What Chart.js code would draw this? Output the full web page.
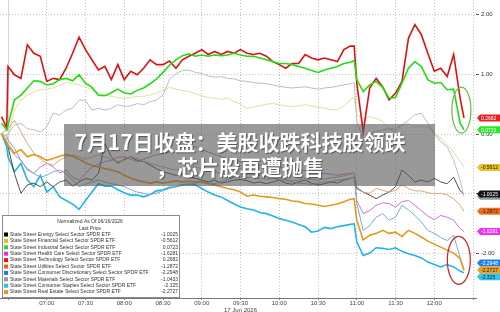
<!DOCTYPE html>
<html>
<head>
<meta charset="utf-8">
<script src="https://cdn.jsdelivr.net/npm/chart.js@4.4.1/dist/chart.umd.min.js"></script>
<style>
body { margin: 0; background: #fff; }
#wrap { position: relative; width: 500px; height: 312px; overflow: hidden; }
#headline {
  position: absolute; left: 64px; top: 124px; width: 371px; height: 62px;
  box-sizing: border-box; padding: 5px 19px 0 0;
  background: rgba(85, 85, 85, 0.6); color: #fff;
  font-family: "Noto Sans CJK SC", sans-serif; font-weight: 700; font-size: 21px; line-height: 25px;
  text-align: center; text-shadow: 1px 1px 1px rgba(0, 0, 0, 0.45);
}
</style>
</head>
<body>
<div id="wrap">
  <canvas id="chart" width="500" height="312"></canvas>
  <div id="headline">7月17日收盘：美股收跌科技股领跌<br>，芯片股再遭抛售</div>
</div>
<script>
// sample times (17 Jun 2026, intraday)
const times = ["06:25","06:29","06:30",
  "06:35","06:40","06:45","06:50","06:55","07:00","07:05","07:10","07:15","07:20","07:25","07:30",
  "07:35","07:40","07:45","07:50","07:55","08:00","08:05","08:10","08:15","08:20","08:25","08:30",
  "08:35","08:40","08:45","08:50","08:55","09:00","09:05","09:10","09:15","09:20","09:25","09:30",
  "09:35","09:40","09:45","09:50","09:55","10:00","10:05","10:10","10:15","10:20","10:25","10:30",
  "10:35","10:40","10:45","10:50","10:55","10:58","11:00","11:05","11:10","11:15","11:20","11:25",
  "11:30","11:35","11:40","11:45","11:50","11:55","12:00","12:05","12:10","12:15","12:20","12:23"];

const energyVals = [0.01,-0.16,-0.21,-0.66,-0.99,-0.85,-0.82,-0.88,-0.80,-0.88,
  -0.80,-0.77,-0.87,-0.80,-0.74,-0.77,-0.66,-0.16,-0.38,-0.49,
  -0.42,-0.38,-0.44,-0.46,-0.52,-0.58,-0.63,-0.66,-0.69,-0.66,
  -0.72,-0.74,-0.77,-0.80,-0.77,-0.82,-0.80,-0.77,-0.76,-0.78,
  -0.82,-0.80,-0.83,-0.80,-0.77,-0.82,-0.84,-0.80,-0.77,-0.82,
  -0.85,-0.83,-0.80,-0.82,-0.77,-0.74,-0.72,-0.91,-0.97,-1.02,
  -1.08,-1.02,-0.97,-0.88,-0.60,-0.69,-0.80,-0.77,-0.80,-0.74,
  -0.80,-0.83,-0.72,-0.95,-1.00];
const finVals = [0.01,-0.10,-0.04,0.40,0.57,0.65,0.71,0.74,0.75,0.77,
  0.82,0.86,0.85,0.82,0.78,0.75,0.69,0.65,0.63,0.61,
  0.60,0.61,0.63,0.63,0.65,0.69,0.73,0.78,0.75,0.73,
  0.71,0.67,0.64,0.61,0.60,0.58,0.60,0.54,0.50,0.43,
  0.45,0.47,0.50,0.51,0.49,0.47,0.46,0.47,0.49,0.47,
  0.45,0.43,0.41,0.40,0.47,0.57,0.61,0.32,0.26,0.29,
  0.26,0.21,0.09,0.09,0.15,0.18,0.11,0.13,0.12,0.01,
  -0.07,-0.18,-0.30,-0.46,-0.56];
const indVals = [0.18,0.07,0.15,0.57,0.65,0.77,0.89,0.88,0.82,0.84,
  0.91,0.93,0.89,0.99,0.85,0.78,0.65,0.64,0.69,0.75,
  0.69,0.67,0.73,0.77,0.84,0.92,1.03,1.15,1.24,1.31,
  1.34,1.30,1.32,1.30,1.32,1.31,1.32,1.35,1.32,1.30,
  1.30,1.27,1.24,1.21,1.18,1.18,1.16,1.13,1.10,1.06,
  1.03,1.07,1.10,1.13,1.18,1.20,1.23,0.91,0.71,0.82,
  0.88,0.78,0.60,0.61,0.85,1.10,1.21,1.13,0.91,0.85,
  0.86,0.74,0.75,0.18,0.07];
const healthVals = [0.01,-0.04,-0.10,-0.24,-0.44,-0.60,-0.66,-0.55,-0.49,-0.55,
  -0.65,-0.60,-0.72,-0.77,-0.66,-0.55,-0.50,-0.46,-0.44,-0.39,
  -0.38,-0.42,-0.46,-0.42,-0.38,-0.35,-0.32,-0.30,-0.27,-0.24,
  -0.22,-0.21,-0.26,-0.30,-0.34,-0.38,-0.41,-0.44,-0.46,-0.49,
  -0.50,-0.52,-0.54,-0.55,-0.56,-0.58,-0.59,-0.60,-0.61,-0.63,
  -0.65,-0.66,-0.67,-0.69,-0.67,-0.66,-0.65,-1.11,-1.33,-1.28,
  -1.19,-1.15,-1.16,-1.22,-1.13,-1.11,-1.19,-1.28,-1.37,-1.43,
  -1.36,-1.39,-1.44,-1.58,-1.63];
const techVals = [0.29,0.10,1.13,0.99,0.93,1.49,1.35,1.30,0.88,0.93,
  0.91,1.10,1.35,1.62,1.41,1.24,1.07,1.13,0.91,1.16,
  0.91,1.05,0.99,1.10,1.24,1.16,1.16,1.22,1.10,1.24,
  1.30,1.35,1.41,1.33,1.38,1.33,1.38,1.35,1.41,1.35,
  1.33,1.35,1.30,1.21,1.16,1.10,1.18,1.18,1.33,1.27,
  1.24,1.27,1.24,1.21,1.41,1.47,1.47,0.85,0.04,0.77,
  0.93,0.79,0.57,0.68,0.88,1.60,1.83,1.66,1.35,1.05,
  1.10,0.96,1.33,0.60,0.27];
const utilVals = [0.01,0.07,0.09,0.23,0.04,-0.16,-0.32,-0.41,-0.49,-0.52,
  -0.44,-0.38,-0.35,-0.38,-0.42,-0.38,-0.35,-0.38,-0.42,-0.46,
  -0.44,-0.38,-0.41,-0.46,-0.49,-0.52,-0.55,-0.58,-0.60,-0.59,
  -0.58,-0.55,-0.58,-0.61,-0.63,-0.66,-0.69,-0.67,-0.70,-0.73,
  -0.72,-0.74,-0.76,-0.74,-0.77,-0.76,-0.78,-0.77,-0.74,-0.76,
  -0.77,-0.75,-0.73,-0.72,-0.70,-0.67,-0.65,-0.88,-0.97,-0.99,
  -0.91,-0.94,-0.97,-0.94,-0.85,-0.91,-0.95,-0.95,-0.98,-1.00,
  -0.99,-1.02,-1.08,-1.19,-1.29];
const discVals = [0.01,-0.16,-0.21,-0.35,-0.44,-0.58,-0.66,-0.72,-0.69,-0.63,
  -0.60,-0.66,-0.77,-0.88,-0.84,-0.80,-0.77,-0.80,-0.83,-0.85,
  -0.88,-0.93,-0.97,-0.99,-1.01,-0.99,-0.95,-0.91,-0.88,-0.85,
  -0.84,-0.82,-0.80,-0.82,-0.83,-0.80,-0.76,-0.72,-0.69,-0.66,
  -0.67,-0.69,-0.72,-0.73,-0.76,-0.77,-0.80,-0.82,-0.83,-0.84,
  -0.82,-0.80,-0.80,-0.77,-0.76,-0.74,-0.72,-1.16,-1.61,-1.53,
  -1.39,-1.33,-1.44,-1.39,-1.19,-1.27,-1.36,-1.47,-1.61,-1.66,
  -1.73,-1.78,-1.69,-2.06,-2.29];
const matVals = [0.01,-0.04,0.01,0.15,0.18,0.09,0.07,0.04,0.12,0.35,
  0.32,0.40,0.43,0.57,0.56,0.40,0.43,0.40,0.43,0.49,
  0.46,0.47,0.51,0.49,0.54,0.57,0.65,0.91,1.01,1.06,
  1.07,1.03,1.01,0.97,0.95,0.96,0.93,0.92,0.89,0.88,
  0.86,0.85,0.84,0.82,0.80,0.78,0.77,0.78,0.79,0.77,
  0.75,0.77,0.78,0.80,0.82,0.84,0.86,0.23,-0.10,0.01,
  0.04,0.07,0.09,0.04,0.15,0.23,0.32,0.35,0.18,0.01,
  -0.13,-0.21,-0.44,-0.77,-1.04];
const stapVals = [0.01,-0.21,-0.38,-0.63,-0.49,-0.77,-0.88,-0.69,-0.97,-0.88,
  -1.05,-1.11,-1.17,-1.26,-1.11,-0.97,-0.83,-0.87,-0.87,-0.93,
  -0.98,-1.02,-1.02,-1.05,-1.01,-0.95,-0.93,-0.89,-0.88,-0.85,
  -0.84,-0.85,-0.91,-0.97,-1.02,-1.05,-1.11,-1.17,-1.22,-1.25,
  -1.27,-1.31,-1.33,-1.37,-1.41,-1.44,-1.47,-1.51,-1.55,-1.64,
  -1.62,-1.56,-1.58,-1.55,-1.53,-1.51,-1.50,-1.80,-2.03,-1.99,
  -1.90,-1.91,-1.93,-1.90,-1.96,-2.00,-2.03,-2.07,-2.14,-2.18,
  -2.22,-2.18,-2.22,-2.29,-2.32];
const reVals = [0.01,-0.13,-0.18,-0.32,-0.26,-0.38,-0.34,-0.38,-0.44,-0.41,
  -0.37,-0.34,-0.37,-0.42,-0.48,-0.52,-0.55,-0.58,-0.60,-0.63,
  -0.69,-0.74,-0.77,-0.80,-0.82,-0.80,-0.82,-0.80,-0.78,-0.80,
  -0.79,-0.80,-0.80,-0.83,-0.85,-0.88,-0.91,-0.93,-0.97,-1.04,
  -1.02,-1.04,-1.05,-1.06,-1.08,-1.09,-1.12,-1.13,-1.16,-1.17,
  -1.19,-1.21,-1.19,-1.17,-1.13,-1.09,-1.08,-1.44,-1.77,-1.69,
  -1.66,-1.61,-1.66,-1.64,-1.71,-1.61,-1.66,-1.72,-1.79,-1.84,
  -1.89,-1.94,-1.99,-2.08,-2.27];

const names = [
  "State Street Energy Select Sector SPDR ETF",
  "State Street Financial Select Sector SPDR ETF",
  "State Street Industrial Select Sector SPDR ETF",
  "State Street Health Care Select Sector SPDR ETF",
  "State Street Technology Select Sector SPDR ETF",
  "State Street Utilities Select Sector SPDR ETF",
  "State Street Consumer Discretionary Select Sector SPDR ETF",
  "State Street Materials Select Sector SPDR ETF",
  "State Street Consumer Staples Select Sector SPDR ETF",
  "State Street Real Estate Select Sector SPDR ETF"
];
const lastPrices = ["-1.0025","-0.5612","0.0723","-1.6281","0.2682","-1.2872","-2.2948","-1.0433","-2.325","-2.2727"];
const gridTimes = ["06:30","07:00","07:30","08:00","08:30","09:00","09:30","10:00","10:30","11:00","11:30","12:00","12:30"];
const yTicks = [-2, -1, 0, 1, 2];
const dateLabel = "17 Jun 2026";
const legendTitle = ["Normalized As Of 06/16/2026", "Last Price"];

const seriesVals = [energyVals, finVals, indVals, healthVals, techVals, utilVals, discVals, matVals, stapVals, reVals];
const lineColors = ["#3c3c3c", "#e9da9c", "#22dd11", "#c874d8", "#e01010", "#d9a77a", "#78acd2", "#bdbdbd", "#22b4e8", "#e8981a"];
const lineWidths = [0.9, 1, 1.6, 1, 1.6, 1, 1, 1, 1.6, 1.6];
const drawOrder = [7, 9, 1, 5, 6, 3, 4, 0, 8, 2];
const swatchColors = ["#000000", "#e0c000", "#22dd22", "#ee22ee", "#ee1111", "#ee6010", "#1a7ee8", "#999999", "#22c0f0", "#f09010"];
const tagBg = ["#111111", "#e6c42a", "#2ee62e", "#ee33ee", "#e82020", "#f07020", "#2080f0", "#999999", "#33c4f0", "#f0a020"];
const tagFg = ["#fff", "#222", "#fff", "#fff", "#fff", "#222", "#fff", "#fff", "#222", "#222"];
const tagNudge = [0, 0, 0, 0, 0, 0, -8, 0, 4, 0];
const tagPaint = [7, 8, 6, 9, 0, 1, 5, 3, 2, 4];
const circles = [
  { t: "12:21", v: 0.40, rx: 9.5, ry: 23, color: "#66bb44" },
  { t: "12:19", v: -2.11, rx: 11.5, ry: 24, color: "#cc2222" }
];

function toMin(s) {
  const p = s.split(":");
  return Number(p[0]) * 60 + Number(p[1]);
}
function fmt(m) {
  const h = Math.floor(m / 60), mm = m % 60;
  return String(h).padStart(2, "0") + ":" + String(mm).padStart(2, "0");
}

const datasets = seriesVals.map((vals, i) => ({
  label: names[i],
  data: vals.map((v, j) => ({ x: toMin(times[j]), y: v })),
  borderColor: lineColors[i],
  borderWidth: lineWidths[i],
  order: drawOrder[i],
  pointRadius: 0,
  tension: 0,
  fill: false
}));

const extras = {
  id: "extras",
  afterDraw(chart) {
    const ctx = chart.ctx;
    const xs = chart.scales.x, ys = chart.scales.y;
    ctx.save();

    // highlight circles
    circles.forEach(c => {
      ctx.beginPath();
      ctx.ellipse(xs.getPixelForValue(toMin(c.t)), ys.getPixelForValue(c.v), c.rx, c.ry, 0, 0, Math.PI * 2);
      ctx.strokeStyle = c.color;
      ctx.lineWidth = 1.2;
      ctx.stroke();
    });

    // last value tags on the right axis
    ctx.font = '5px "Liberation Sans"';
    ctx.textBaseline = "middle";
    ctx.textAlign = "left";
    const x0 = chart.chartArea.right + 3;
    tagPaint.forEach(i => {
      const vals = seriesVals[i];
      const y = ys.getPixelForValue(vals[vals.length - 1]) + tagNudge[i];
      ctx.fillStyle = tagBg[i];
      ctx.beginPath();
      ctx.moveTo(x0 - 2, y);
      ctx.lineTo(x0 + 1, y - 3.5);
      ctx.lineTo(500, y - 3.5);
      ctx.lineTo(500, y + 3.5);
      ctx.lineTo(x0 + 1, y + 3.5);
      ctx.closePath();
      ctx.fill();
      ctx.fillStyle = tagFg[i];
      ctx.fillText(lastPrices[i], x0 + 2, y + 0.3);
    });

    // legend box
    const bx = 2.5, by = 215.5, bw = 177, bh = 82;
    ctx.fillStyle = "#fff";
    ctx.fillRect(bx, by, bw, bh);
    ctx.strokeStyle = "#8a8a8a";
    ctx.lineWidth = 1;
    ctx.strokeRect(bx, by, bw, bh);
    ctx.fillStyle = "#333";
    ctx.textAlign = "center";
    ctx.fillText(legendTitle[0], 90, 222);
    ctx.fillText(legendTitle[1], 90, 228.5);
    names.forEach((n, i) => {
      const y = 234.5 + i * 6.4;
      ctx.fillStyle = swatchColors[i];
      ctx.fillRect(4, y - 2, 4, 4);
      ctx.fillStyle = "#333";
      ctx.textAlign = "left";
      ctx.fillText(n, 10, y);
      ctx.textAlign = "right";
      ctx.fillText(lastPrices[i], 178, y);
    });
    ctx.restore();
  }
};

new Chart(document.getElementById("chart"), {
  type: "line",
  data: { datasets: datasets },
  options: {
    responsive: false,
    animation: false,
    devicePixelRatio: 1,
    layout: { padding: 0 },
    plugins: { legend: { display: false }, tooltip: { enabled: false } },
    scales: {
      x: {
        type: "linear",
        min: 383.8,
        max: 752.3,
        afterFit(s) { s.height = 14; s.paddingLeft = 0; s.paddingRight = 0; },
        afterBuildTicks(s) { s.ticks = gridTimes.map(t => ({ value: toMin(t) })); },
        grid: {
          color: c => (c.tick && c.tick.value === 390 ? "#d4d4d4" : "#c0c0c0"),
          lineWidth: 1,
          drawTicks: true,
          tickLength: 2,
          tickColor: "#888"
        },
        border: {
          display: true,
          color: "#777",
          dash: c => (c.tick && c.tick.value === 390 ? [] : [1, 2])
        },
        ticks: {
          font: { size: 6, family: "Liberation Sans" },
          color: "#444",
          padding: 0,
          maxRotation: 0,
          autoSkip: false,
          callback(value) {
            if (value < 420 || value > 720) return "";
            return value === 570 ? [fmt(value), dateLabel] : fmt(value);
          }
        }
      },
      y: {
        position: "right",
        min: -2.74,
        max: 2.24,
        afterFit(s) { s.width = 24; s.paddingTop = 0; s.paddingBottom = 0; },
        afterBuildTicks(s) { s.ticks = yTicks.map(v => ({ value: v })); },
        grid: { color: "#c0c0c0", lineWidth: 1, drawTicks: true, tickLength: 3, tickColor: "#555" },
        border: { display: false, dash: [1, 2] },
        ticks: {
          font: { size: 6, family: "Liberation Sans" },
          color: "#333",
          padding: 2,
          callback: v => v.toFixed(2)
        }
      }
    }
  },
  plugins: [extras]
});
</script>
</body>
</html>
